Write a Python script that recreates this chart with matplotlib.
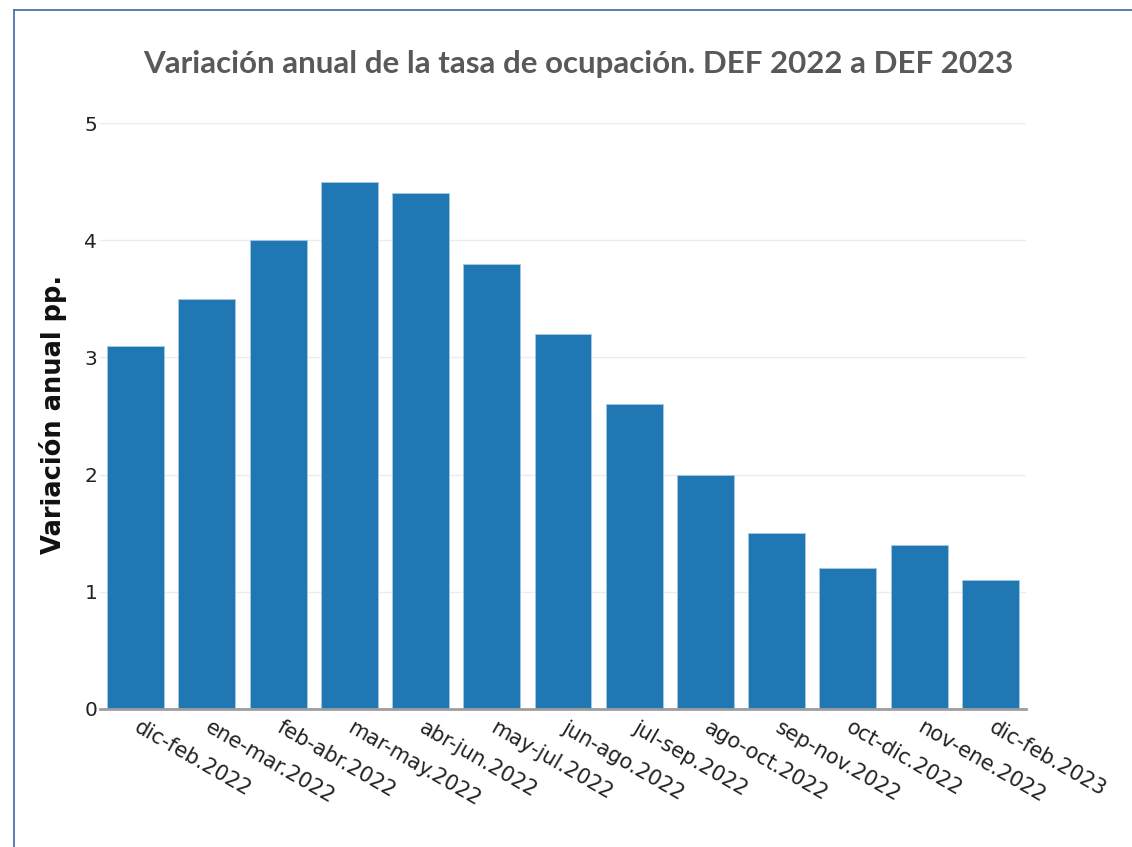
import matplotlib
matplotlib.use("Agg")
import matplotlib.pyplot as plt
from matplotlib.lines import Line2D
from matplotlib.transforms import ScaledTranslation

categories = ["dic-feb.2022", "ene-mar.2022", "feb-abr.2022", "mar-may.2022",
              "abr-jun.2022", "may-jul.2022", "jun-ago.2022", "jul-sep.2022",
              "ago-oct.2022", "sep-nov.2022", "oct-dic.2022", "nov-ene.2022",
              "dic-feb.2023"]
values = [3.1, 3.5, 4.0, 4.5, 4.4, 3.8, 3.2, 2.6, 2.0, 1.5, 1.2, 1.4, 1.1]
yticks = [0, 1, 2, 3, 4, 5]
title = "Variación anual de la tasa de ocupación. DEF 2022 a DEF 2023"
ylabel = "Variación anual pp."

W, H = 1132, 847
fig = plt.figure(figsize=(W / 100, H / 100), dpi=100)
ax = fig.add_axes([100 / W, 1 - 709 / H, 926 / W, (709 - 123) / H])

x = list(range(len(categories)))
ax.bar(x, values, width=0.8, color="#1f77b4", edgecolor="#a9c8e2", linewidth=0.6, zorder=3)
ax.set_xlim(-0.5, len(categories) - 0.5)
ax.set_ylim(0, 5)
ax.set_yticks(yticks)
ax.set_yticklabels([str(t) for t in yticks], fontsize=14.5, color="#222222", family="DejaVu Sans")
ax.set_xticks(x)
ax.set_xticklabels(categories, rotation=-30, ha="left", va="top", rotation_mode="anchor",
                   fontsize=15, color="#222222", family="DejaVu Sans")
ax.tick_params(axis="both", length=0)
ax.tick_params(axis="y", pad=2)
ax.tick_params(axis="x", pad=6)
shift = ScaledTranslation(5 / 100, 0, fig.dpi_scale_trans)
for lbl in ax.get_xticklabels():
    lbl.set_transform(lbl.get_transform() + shift)
ax.grid(axis="y", color="#ececec", linewidth=1, zorder=0)
for s in ["top", "right", "left"]:
    ax.spines[s].set_visible(False)
ax.spines["bottom"].set_color("#9e9e9e")
ax.spines["bottom"].set_linewidth(2)
ax.spines["bottom"].set_zorder(4)

fig.text(578 / W, 1 - 64 / H, title, ha="center", va="center", fontsize=22.5,
         fontweight="bold", color="#595959", family="Lato")
fig.text(53 / W, 1 - 414 / H, ylabel, ha="center", va="center", rotation=90,
         fontsize=18.5, fontweight="bold", color="#111111", family="DejaVu Sans")

# frame lines (top and left)
fig.add_artist(Line2D([13.5 / W, 13.5 / W], [0, 1 - 10 / H], transform=fig.transFigure,
                      color="#4f72b0", linewidth=1.3))
fig.add_artist(Line2D([13.5 / W, 1], [1 - 10 / H, 1 - 10 / H], transform=fig.transFigure,
                      color="#4f72b0", linewidth=1.3))

fig.savefig("out.png", dpi=100)
